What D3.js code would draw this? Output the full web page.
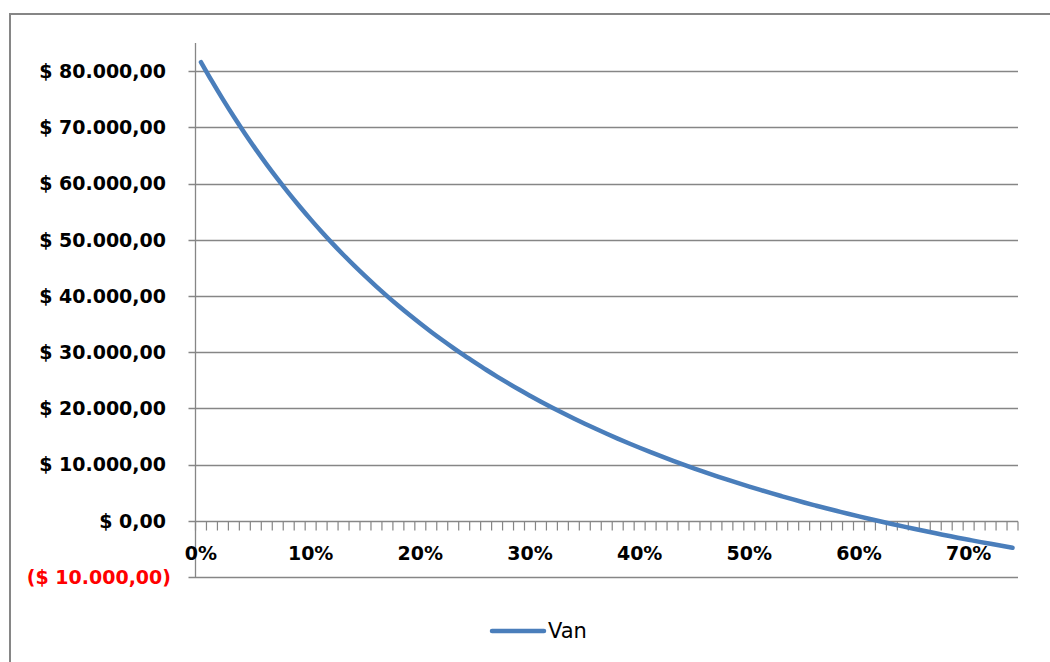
<!DOCTYPE html>
<html>
<head>
<meta charset="utf-8">
<script src="https://cdn.jsdelivr.net/npm/d3@7"></script>
<style>
  body { margin: 0; background: #fff; }
  svg { display: block; }
</style>
</head>
<body>
<script>
// discount rates (%), one category each
var rates = d3.range(0, 75);

// Van (NPV) at each rate
var van = [
  81600, 78210, 74970, 71870, 68910, 66080, 63370, 60780, 58290, 55910,
  53620, 51420, 49310, 47290, 45340, 43470, 41660, 39930, 38260, 36650,
  35100, 33600, 32160, 30770, 29420, 28130, 26870, 25660, 24490, 23350,
  22260, 21190, 20160, 19170, 18200, 17260, 16360, 15480, 14620, 13790,
  12990, 12210, 11450, 10710, 9990, 9290, 8620, 7960, 7310, 6690,
  6080, 5490, 4910, 4350, 3800, 3260, 2740, 2230, 1740, 1250,
  780, 320, -130, -570, -1000, -1420, -1830, -2230, -2620, -3010,
  -3380, -3750, -4100, -4450, -4800
];

var yTicks = [-10000, 0, 10000, 20000, 30000, 40000, 50000, 60000, 70000, 80000];
var xLabels = ["0%", "10%", "20%", "30%", "40%", "50%", "60%", "70%"];

var W = 1050, H = 662;
var plotL = 195.5, plotR = 1018, plotT = 43, plotB = 577;
var grey = "#868686";
var font = "'DejaVu Sans', sans-serif";

var svg = d3.select("body").append("svg")
  .attr("width", W)
  .attr("height", H);

// outer chart frame
svg.append("rect")
  .attr("x", 10).attr("y", 14)
  .attr("width", 1100).attr("height", 700)
  .attr("fill", "#fff")
  .attr("stroke", grey)
  .attr("stroke-width", 2);

var x = d3.scaleBand()
  .domain(rates)
  .range([plotL, plotR]);

var y = d3.scaleLinear()
  .domain([-10000, 85000])
  .range([plotB, plotT]);

var loc = d3.formatLocale({decimal: ",", thousands: ".", grouping: [3], currency: ["$", ""]});
var num = loc.format(",.2f");
function money(v) {
  return v < 0 ? "($ " + num(-v) + ")" : "$ " + num(v);
}

// gridlines (with the small outward tick on the left)
svg.append("g")
  .selectAll("line")
  .data(yTicks)
  .enter().append("line")
    .attr("x1", plotL - 7)
    .attr("x2", plotR)
    .attr("y1", function(d) { return Math.round(y(d)) + 0.5; })
    .attr("y2", function(d) { return Math.round(y(d)) + 0.5; })
    .attr("stroke", grey)
    .attr("stroke-width", 1.3);

// y axis line
svg.append("line")
  .attr("x1", plotL).attr("x2", plotL)
  .attr("y1", plotT).attr("y2", plotB)
  .attr("stroke", grey)
  .attr("stroke-width", 1.3);

// y labels, negatives in red with the ")" hanging past the column
svg.append("g")
  .selectAll("text")
  .data(yTicks)
  .enter().append("text")
    .attr("x", function(d) { return d < 0 ? 171 : 166; })
    .attr("y", function(d) { return y(d); })
    .attr("dy", "0.36em")
    .attr("text-anchor", "end")
    .attr("font-family", font)
    .attr("font-weight", "bold")
    .attr("font-size", 19)
    .attr("fill", function(d) { return d < 0 ? "#ff0000" : "#000"; })
    .text(money);

// x axis at zero, with ticks between categories
var y0 = Math.round(y(0)) + 0.5;
var edges = rates.map(function(r) { return x(r); }).concat([plotR]);

svg.append("g")
  .selectAll("line")
  .data(edges)
  .enter().append("line")
    .attr("x1", function(d) { return d; })
    .attr("x2", function(d) { return d; })
    .attr("y1", y0)
    .attr("y2", y0 + 9)
    .attr("stroke", grey)
    .attr("stroke-width", 1.2);

svg.append("g")
  .selectAll("text")
  .data(xLabels)
  .enter().append("text")
    .attr("x", function(d) { return x(parseInt(d)) + x.bandwidth() / 2; })
    .attr("y", 560)
    .attr("text-anchor", "middle")
    .attr("font-family", font)
    .attr("font-weight", "bold")
    .attr("font-size", 19)
    .attr("fill", "#000")
    .text(function(d) { return d; });

// Van line
var line = d3.line()
  .x(function(d, i) { return x(rates[i]) + x.bandwidth() / 2; })
  .y(function(d) { return y(d); })
  .curve(d3.curveMonotoneX);

svg.append("path")
  .datum(van)
  .attr("d", line)
  .attr("fill", "none")
  .attr("stroke", "#4a7ebb")
  .attr("stroke-width", 4.5)
  .attr("stroke-linecap", "round")
  .attr("stroke-linejoin", "round");

// legend
var lg = svg.append("g");
lg.append("line")
  .attr("x1", 492).attr("x2", 544)
  .attr("y1", 631).attr("y2", 631)
  .attr("stroke", "#4a7ebb")
  .attr("stroke-width", 4.5)
  .attr("stroke-linecap", "round");
lg.append("text")
  .attr("x", 548)
  .attr("y", 638)
  .attr("font-family", font)
  .attr("font-size", 21)
  .attr("fill", "#000")
  .text("Van");
</script>
</body>
</html>
